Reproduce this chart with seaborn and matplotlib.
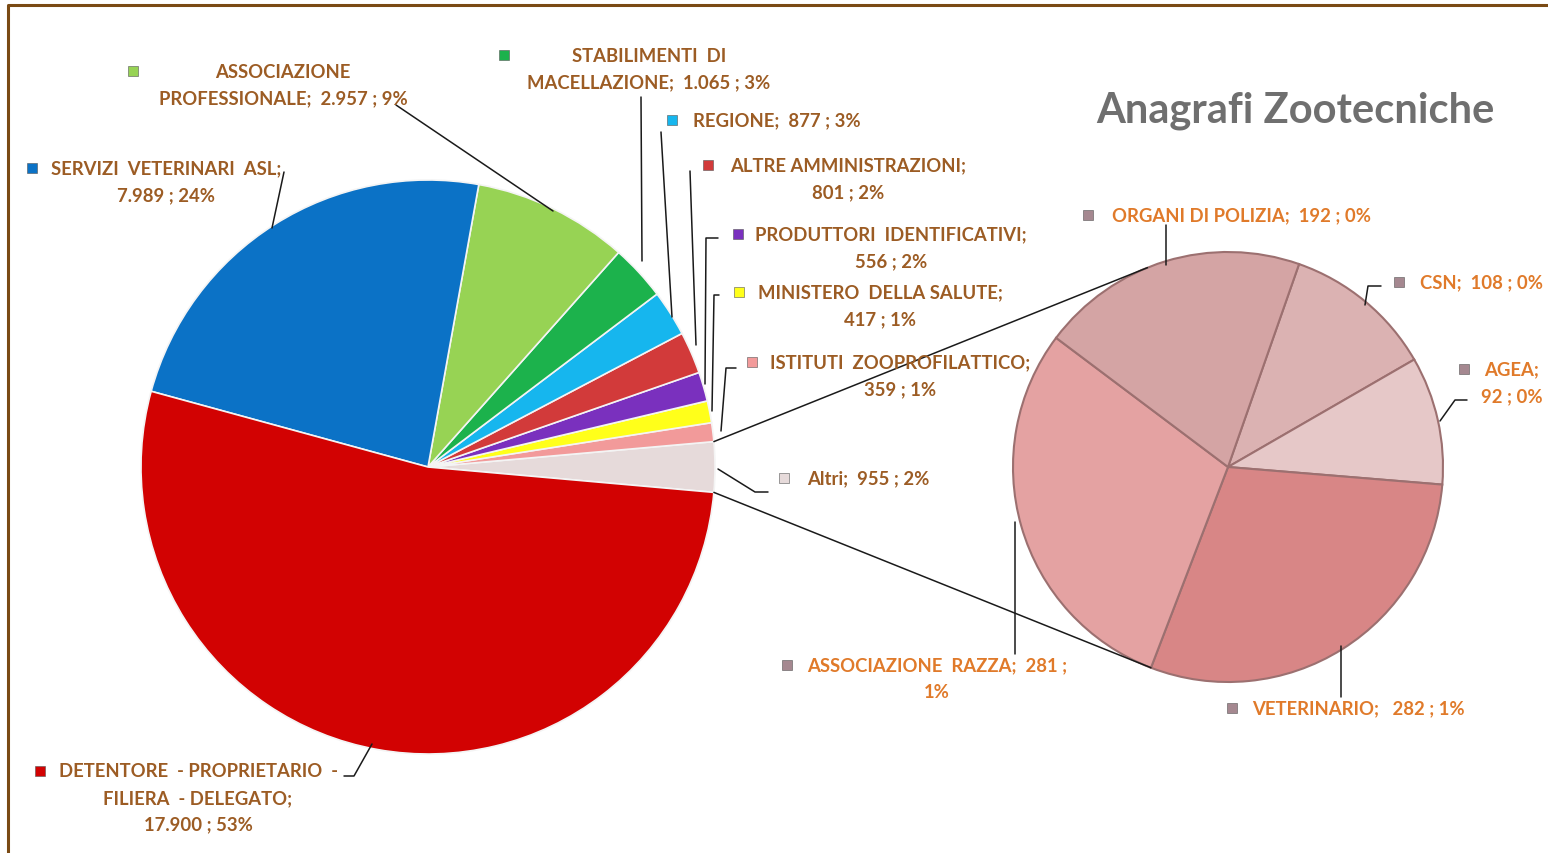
import numpy as np
import matplotlib.pyplot as plt
import seaborn as sns

W, H = 1548, 854

# main pie, listed counterclockwise starting from "Altri" on the right
main_names = ["Altri;", "ISTITUTI  ZOOPROFILATTICO;", "MINISTERO  DELLA SALUTE;",
              "PRODUTTORI  IDENTIFICATIVI;", "ALTRE AMMINISTRAZIONI;", "REGIONE;",
              "STABILIMENTI  DI|MACELLAZIONE;", "ASSOCIAZIONE|PROFESSIONALE;",
              "SERVIZI  VETERINARI  ASL;", "DETENTORE  - PROPRIETARIO  -|FILIERA  - DELEGATO;"]
main_values = [955, 359, 417, 556, 801, 877, 1065, 2957, 7989, 17900]
main_pct = ["2%", "1%", "1%", "2%", "2%", "3%", "3%", "9%", "24%", "53%"]
main_colors = ["#e6dada", "#f29a9a", "#ffff1a", "#7a30be", "#d23a3a", "#16b6ee",
               "#1cb24c", "#97d354", "#0b72c6", "#d20202"]

# secondary pie ("Altri" split), listed clockwise
sub_names = ["CSN;", "AGEA;", "VETERINARIO;", "ASSOCIAZIONE  RAZZA;", "ORGANI DI POLIZIA;"]
sub_values = [108, 92, 282, 281, 192]
sub_pct = ["0%", "0%", "1%", "1%", "0%"]
sub_colors = ["#dbb2b2", "#e6c8c8", "#d88686", "#e4a2a2", "#d4a4a4"]

# label layout in image pixels: text centre x, first line y, template, marker x, leader
main_layout = [
    (868, 479, "{n}  {v} ; {p}", 784, [(768, 493), (755, 493), (718, 470)]),
    (900, 363, "{n}\n{v} ; {p}", 752, [(736, 369), (726, 369), (721, 432)]),
    (880, 293, "{n}\n{v} ; {p}", 739, [(719, 296), (714, 296), (712, 412)]),
    (891, 235, "{n}\n{v} ; {p}", 738, [(718, 239), (706, 239), (705, 385)]),
    (848, 166, "{n}\n{v} ; {p}", 708, [(690, 172), (696, 346)]),
    (777, 121, "{n}  {v} ; {p}", 672, [(661, 133), (672, 318)]),
    (649, 56, "{n}  {v} ; {p}", 504, [(641, 98), (642, 262)]),
    (283, 72, "{n}  {v} ; {p}", 133, [(396, 106), (553, 212)]),
    (166, 169, "{n}\n{v} ; {p}", 32, [(284, 173), (272, 229)]),
    (198, 772, "{n}\n{v} ; {p}", 40, [(344, 777), (354, 777), (372, 745)]),
]
sub_layout = [
    (1481, 283, "{n}  {v} ; {p}", 1399, [(1381, 287), (1368, 287), (1365, 306)]),
    (1512, 370, "{n}\n{v} ; {p}", 1464, [(1467, 401), (1455, 401), (1440, 422)]),
    (1358, 709, "{n}   {v} ; {p}", 1232, [(1341, 698), (1341, 647)]),
    (937, 666, "{n}  {v} ;\n{p}", 787, [(1015, 655), (1015, 523)]),
    (1242, 216, "{n}  {v} ; {p}", 1088, [(1166, 226), (1166, 266)]),
]

MAIN_C, MAIN_R = (428, 468), 287
SUB_C, SUB_R = (1228, 468), 215


def fmt(v):
    return f"{v:,}".replace(",", ".")


def px(x, y):
    return x, H - y


sns.set_theme(style="white")
plt.rcParams["font.family"] = ["Lato", "DejaVu Sans"]

fig = plt.figure(figsize=(W / 100, H / 100), dpi=100)
ax = fig.add_axes([0, 0, 1, 1])

total = sum(main_values)
half = main_values[0] / total * 180
ax.pie(main_values, colors=main_colors, startangle=-half, counterclock=True,
       center=px(*MAIN_C), radius=MAIN_R,
       wedgeprops=dict(edgecolor="#f4f4f4", linewidth=1.2))
ax.pie(sub_values, colors=sub_colors, startangle=70.7, counterclock=False,
       center=px(*SUB_C), radius=SUB_R,
       wedgeprops=dict(edgecolor="#9c7070", linewidth=1.5))

# connectors from the "Altri" wedge to the secondary pie
mc = np.array(px(*MAIN_C))
sc = np.array(px(*SUB_C))
for a_main, a_sub in [(half, 112), (-half, -111)]:
    p0 = mc + MAIN_R * np.array([np.cos(np.radians(a_main)), np.sin(np.radians(a_main))])
    p1 = sc + SUB_R * np.array([np.cos(np.radians(a_sub)), np.sin(np.radians(a_sub))])
    ax.plot([p0[0], p1[0]], [p0[1], p1[1]], color="#1a1a1a", lw=1.1)


def put_label(name, value, pct, layout, color, mcolor):
    cx, cy, tpl, mx, leader = layout
    text = tpl.format(n=name.replace("|", "\n"), v=fmt(value), p=pct)
    for i, line in enumerate(text.split("\n")):
        ax.text(*px(cx, cy + i * 26.5), line.strip(), ha="center", va="center",
                fontsize=13.3, fontweight="bold", color=color)
    ax.plot(*px(mx, cy), marker="s", ms=7, mfc=mcolor, mec="#555555", mew=0.4, ls="none")
    xs, ys = zip(*[px(x, y) for x, y in leader])
    ax.plot(xs, ys, color="#1a1a1a", lw=1.1)


for n, v, p, lay, c in zip(main_names, main_values, main_pct, main_layout, main_colors):
    put_label(n, v, p, lay, "#9c5c24", c)
for n, v, p, lay, c in zip(sub_names, sub_values, sub_pct, sub_layout, sub_colors):
    put_label(n, v, p, lay, "#e07a2a", "#a58890")

ax.text(*px(1295, 111), "Anagrafi Zootecniche", ha="center", va="center",
        fontsize=30, fontweight="bold", color="#6f6f6f")

# frame
ax.plot([8, 8, W], [0, H - 6, H - 6], color="#7a4a14", lw=2.2)

ax.set_xlim(0, W)
ax.set_ylim(0, H)
ax.set_aspect("equal")
ax.axis("off")
fig.savefig("out.png", dpi=100, facecolor="white")
